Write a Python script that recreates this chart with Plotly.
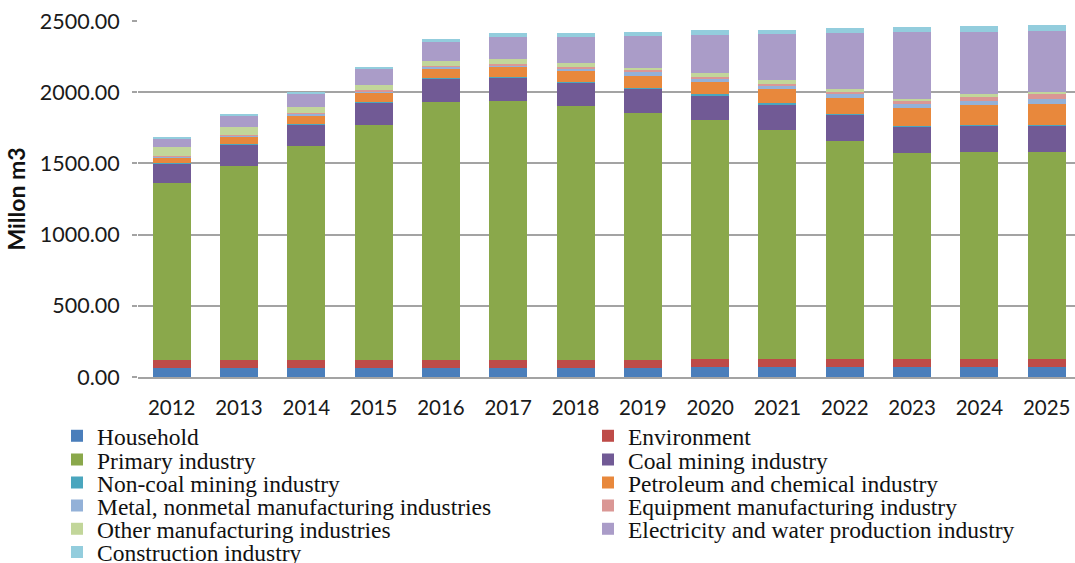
import plotly.graph_objects as go

# Water demand by sector, 2012-2025 (million m3)
years = ["2012", "2013", "2014", "2015", "2016", "2017", "2018",
         "2019", "2020", "2021", "2022", "2023", "2024", "2025"]

household = [65, 65, 65, 65, 66, 66, 66, 66, 67, 67, 67, 68, 68, 68]
environment = [55, 55, 55, 55, 55, 55, 56, 56, 56, 56, 57, 57, 57, 57]
primary = [1239, 1364, 1500, 1650, 1813, 1818, 1782, 1735, 1680, 1614, 1534, 1448, 1452, 1452]
coal_mining = [138, 152, 156, 158, 163, 167, 161, 169, 176, 180, 185, 186, 189, 189]
noncoal_mining = [3, 3, 4, 4, 4, 4, 5, 5, 5, 5, 5, 6, 6, 6]
petro_chem = [42, 47, 56, 61, 63, 66, 77, 82, 89, 103, 113, 122, 136, 146]
metal_nonmetal = [5, 8, 12, 14, 16, 14, 21, 32, 24, 25, 29, 32, 33, 37]
equipment = [2, 3, 4, 5, 5, 5, 7, 10, 9, 10, 13, 17, 28, 33]
other_mfg = [63, 56, 45, 42, 37, 40, 28, 17, 26, 23, 21, 19, 19, 14]
electricity_water = [66, 82, 92, 111, 132, 152, 188, 220, 270, 327, 394, 470, 437, 427]
construction = [10, 9, 11, 14, 18, 26, 26, 33, 33, 30, 30, 32, 39, 40]

names = ["Household", "Environment", "Primary industry", "Coal mining industry",
         "Non-coal mining industry", "Petroleum and chemical industry",
         "Metal, nonmetal manufacturing industries", "Equipment manufacturing industry",
         "Other manufacturing industries", "Electricity and water production industry",
         "Construction industry"]
values = [household, environment, primary, coal_mining, noncoal_mining, petro_chem,
          metal_nonmetal, equipment, other_mfg, electricity_water, construction]
colors = ["#4A7EBB", "#BE4B48", "#8AA84B", "#715A95", "#4AA6BE", "#E8883C",
          "#93B1D8", "#DA9795", "#C2D69A", "#AA9CC8", "#93CDDD"]

# two legend entries per row, one legend object per row
legend_ids = ["legend", "legend2", "legend3", "legend4", "legend5", "legend6"]

fig = go.Figure()
for i, (name, vals, col) in enumerate(zip(names, values, colors)):
    fig.add_trace(go.Bar(
        x=years, y=vals, name=name,
        marker=dict(color=col, line=dict(width=0)),
        legend=legend_ids[i // 2],
    ))

W, H = 1075, 563
ML, MR, MT, MB = 138, 0, 21, 186
plot_w = W - ML - MR
plot_h = H - MT - MB

row_centers = [436.0, 459.7, 482.6, 505.8, 529.0, 552.2]
legend_font = dict(family="Liberation Serif", size=23.5, color="#111111")
legend_layout = {}
for lid, yc in zip(legend_ids, row_centers):
    legend_layout[lid] = dict(
        orientation="h",
        xref="paper", yref="paper",
        x=(57 - ML) / plot_w, xanchor="left",
        y=(H - MB - yc) / plot_h, yanchor="middle",
        entrywidth=486, entrywidthmode="pixels",
        traceorder="normal",
        font=legend_font,
        bgcolor="rgba(0,0,0,0)",
        borderwidth=0,
    )

ytick_font = dict(family="Lato", size=21.5, color="#1a1a1a")
xtick_font = dict(family="Lato", size=20.5, color="#1a1a1a")
grid_col = "#a3a3a3"

fig.update_layout(
    width=W, height=H,
    margin=dict(l=ML, r=MR, t=MT, b=MB, autoexpand=False),
    barmode="stack",
    bargap=0.435,
    paper_bgcolor="white",
    plot_bgcolor="white",
    xaxis=dict(
        type="category",
        range=[-0.5, 13.42],
        showgrid=False,
        showline=True, linecolor=grid_col, linewidth=1.5,
        ticks="",
        tickfont=xtick_font,
        ticklabelstandoff=12,
    ),
    yaxis=dict(
        range=[0, 2500],
        dtick=500,
        tickformat=".2f",
        showgrid=True, gridcolor=grid_col, gridwidth=1.5,
        zeroline=False,
        showline=False,
        ticks="outside", ticklen=5, tickcolor=grid_col, tickwidth=1.5,
        tickfont=ytick_font,
        ticklabelstandoff=8,
        title=dict(text="Millon m3", font=dict(family="Lato", size=23, color="#111111", weight="bold"),
                   standoff=7),
    ),
    **legend_layout,
)

fig.write_html("out.html")
